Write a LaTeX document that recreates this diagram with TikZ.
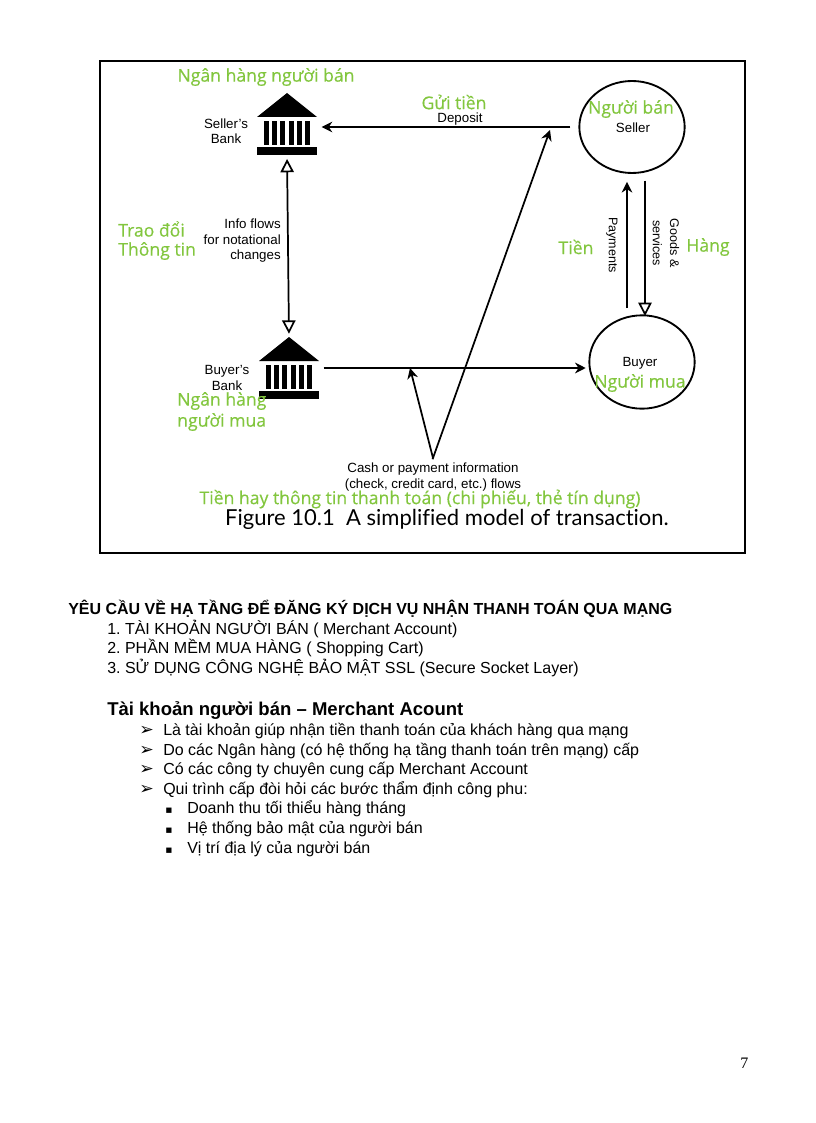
\documentclass[tikz,border=0pt]{standalone}
\usepackage{fontspec}
\setmainfont{Liberation Sans}
\newfontfamily\greenfont[FakeBold=0.4]{Open Sans}
\newfontfamily\captionfont[Ligatures=NoCommon]{Lato}
\newfontfamily\bulletfont{DejaVu Sans}
\newfontfamily\pagefont{Liberation Serif}
\usepackage{xcolor}
\usepackage{tikz}
\usetikzlibrary{
  arrows.meta,
  positioning,
  calc,
  shapes.geometric
}
\definecolor{labelgreen}{RGB}{130,198,62}
\frenchspacing
\tikzset{
  fig/.style={font=\fontsize{10}{11.6}\selectfont,align=center,inner sep=0pt,text=black},
  figside/.style={fig,font=\fontsize{9.4}{12.8}\selectfont,rotate=-90},
  vn/.style={font=\greenfont\fontsize{13.2}{15}\selectfont,text=labelgreen,inner sep=0pt},
  body/.style={font=\fontsize{12}{14}\selectfont,anchor=base west,inner sep=0pt},
  flow/.style={line width=1.3pt,-{Stealth[length=8pt,width=8pt]}},
  openflow/.style={line width=1.3pt,-{Triangle[open,fill=white,length=10pt,width=10pt]}},
  bothflow/.style={line width=1.3pt,{Triangle[open,fill=white,length=10pt,width=10pt]}-{Triangle[open,fill=white,length=10pt,width=10pt]}},
  party/.style={draw,ellipse,line width=1.4pt,inner sep=0pt},
  bankbox/.style={rectangle,inner sep=0pt,minimum width=45.5pt,minimum height=46pt},
  bank/.pic={
    \fill (-30,-7) -- (0,-31) -- (30,-7) -- cycle;
    \foreach \c in {-21,-13,-5,4,12,20}
      \fill (\c-2.5,-3) rectangle (\c+2.5,21);
    \fill (-30,23) rectangle (30,31);
  }
}

\begin{document}
\begin{tikzpicture}[x=0.75pt,y=-0.75pt]
\useasboundingbox (0,0) rectangle (816,1123);

% figure frame
\draw[line width=1.6pt] (100,61) rectangle (745,553);

% banks and parties
\node[bankbox] (sbank) at (287,124) {};
\node[bankbox] (bbank) at (289,368) {};
\pic at (sbank) {bank};
\pic at (bbank) {bank};
\node[party,minimum width=79pt,minimum height=69pt] (seller) at (632,127) {};
\node[party,minimum width=79pt,minimum height=70pt] (buyer) at (642,362) {};

\node[fig] (sellername) at (633,128) {Seller};
\node[fig] (buyername) at (640,363) {Buyer};
\node[fig] (sbanklabel) at (226,131) {Seller's\\Bank};
\node[fig] (bbanklabel) at (227,378) {Buyer's\\Bank};
\node[fig,align=right,anchor=east] (infolabel) at (281,241) {Info flows\\for notational\\changes};
\node[fig] (depositlabel) at (460,119) {Deposit};
\node[figside] (paylabel) at (612,245) {Payments};
\node[figside] (goodslabel) at (666,243) {Goods \&\\services};
\node[fig] (cashlabel) at (433,477) {Cash or payment information\\(check, credit card, etc.) flows};
\node[inner sep=0pt,font=\captionfont\fontsize{16.5}{18}\selectfont] (figcaption) at (447,519) {Figure 10.1\ \ A simplified model of transaction.};

% connectors
\coordinate (cashtip) at (433,458);
\coordinate (hitbuyer) at (410,368);
\coordinate (hitdeposit) at (550,130);
\draw[flow,shorten >=3pt,shorten <=6pt] (seller.west) -- (sbank.east |- seller.west);
\draw[bothflow,shorten >=2.5pt,shorten <=3pt] (sbank.south) -- (bbank.north);
\draw[flow,shorten >=2pt,shorten <=3pt] (bbank.east) -- (bbank.east -| buyer.west);
\draw[flow,shorten <=-1pt] (cashtip) -- (hitdeposit);
\draw[flow] (cashtip) -- (hitbuyer);
\coordinate (paystart) at (627,308);
\coordinate (goodsend) at (645,316);
\draw[flow,shorten >=6pt] (paystart) -- (paystart |- seller.south);
\draw[openflow,shorten <=5pt] (goodsend |- seller.south) -- (goodsend);

% green labels
\node[vn] (vnsbank) at (266,77) {Ngân hàng người bán};
\node[vn] (vndeposit) at (454,102) {Gửi tiền};
\node[vn] (vnseller) at (631,109) {Người bán};
\node[vn,anchor=west] (vninfoa) at (118,229) {Trao đổi};
\node[vn,anchor=west] (vninfob) at (118,251) {Thông tin};
\node[vn] (vnpay) at (576,247) {Tiền};
\node[vn] (vngoods) at (708,247) {Hàng};
\node[vn] (vnbuyer) at (640,383) {Người mua};
\node[vn,anchor=west] (vnbbanka) at (177,401) {Ngân hàng};
\node[vn,anchor=west] (vnbbankb) at (177,422) {người mua};
\node[vn] (vncash) at (420,499) {Tiền hay thông tin thanh toán (chi phiếu, thẻ tín dụng)};

% text below the figure
\node[body,font=\bfseries\fontsize{12}{14}\selectfont] (heading) at (68,614) {YÊU CẦU VỀ HẠ TẦNG ĐỂ ĐĂNG KÝ DỊCH VỤ NHẬN THANH TOÁN QUA MẠNG};
\node[body] (needa) at (107,634) {1. TÀI KHOẢN NGƯỜI BÁN ( Merchant Account)};
\node[body] (needb) at (107,653) {2. PHẦN MỀM MUA HÀNG ( Shopping Cart)};
\node[body] (needc) at (107,673) {3. SỬ DỤNG CÔNG NGHỆ BẢO MẬT SSL (Secure Socket Layer)};
\node[body,font=\bfseries\fontsize{13.9}{16}\selectfont] (merchant) at (107,715) {Tài khoản người bán – Merchant Acount};

\foreach \n/\ypos/\txt in {a/735/Là tài khoản giúp nhận tiền thanh toán của khách hàng qua mạng,
  b/755/Do các Ngân hàng (có hệ thống hạ tầng thanh toán trên mạng) cấp,
  c/774/Có các công ty chuyên cung cấp Merchant Account,
  d/794/Qui trình cấp đòi hỏi các bước thẩm định công phu:}{
  \node[body,font=\bulletfont\fontsize{13}{14}\selectfont] (arrow\n) at (139,\ypos) {➢};
  \node[body] (point\n) at (163,\ypos) {\txt};
}
\foreach \n/\ypos/\txt in {a/813/Doanh thu tối thiểu hàng tháng,
  b/833/Hệ thống bảo mật của người bán,
  c/853/Vị trí địa lý của người bán}{
  \node[body,font=\bulletfont\fontsize{8}{10}\selectfont] (square\n) at (165,\ypos) {▪};
  \node[body] (sub\n) at (187,\ypos) {\txt};
}

\node[body,font=\pagefont\fontsize{12}{14}\selectfont] (pagenum) at (740,1068) {7};
\end{tikzpicture}
\end{document}
